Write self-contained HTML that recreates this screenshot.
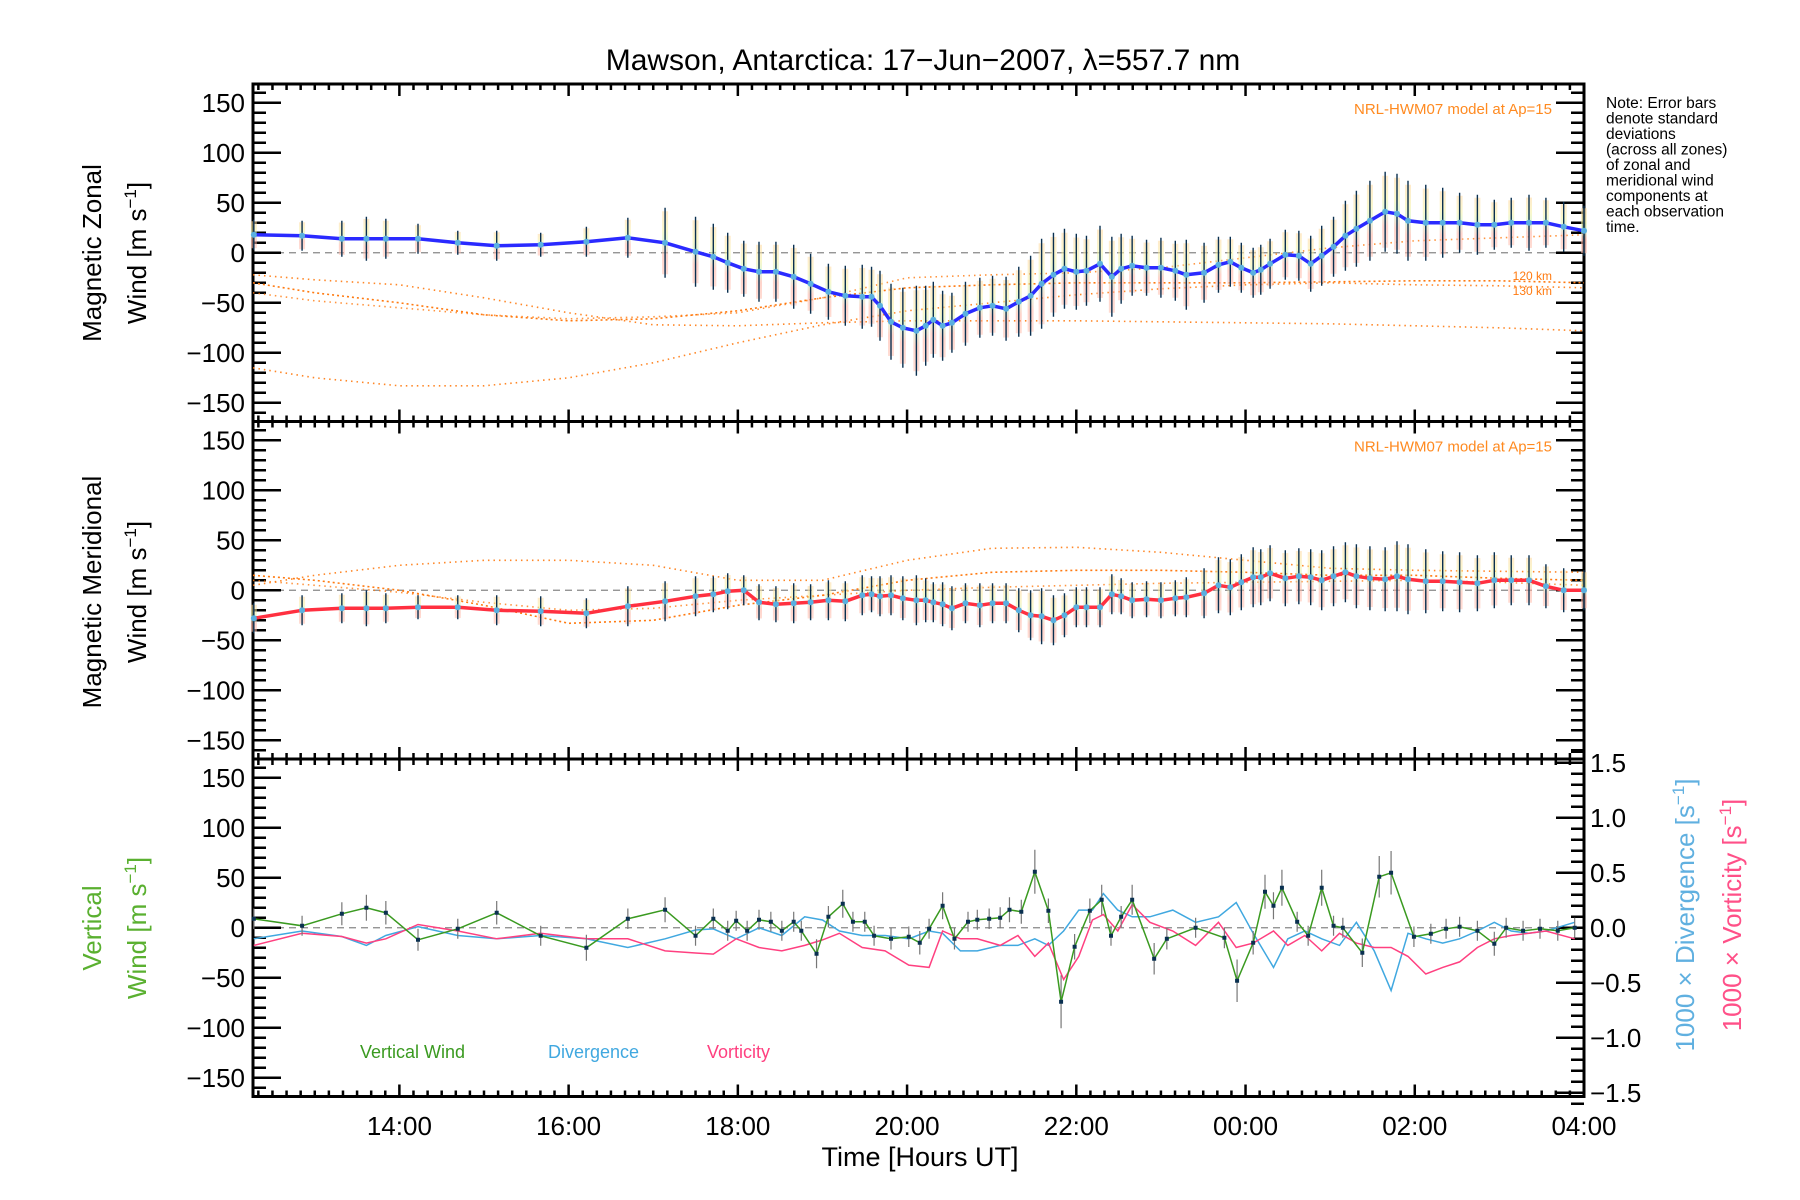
<!DOCTYPE html>
<html><head><meta charset="utf-8"><style>
html,body{margin:0;padding:0;background:#fff;}
svg{display:block;font-family:"Liberation Sans","DejaVu Sans",sans-serif;}
</style></head><body>
<svg id="chart" width="1800" height="1200" viewBox="0 0 1800 1200" xmlns="http://www.w3.org/2000/svg">
<defs>
<linearGradient id="pastel" x1="0" y1="0" x2="0" y2="1">
<stop offset="0" stop-color="#ffd9a0"/><stop offset="0.3" stop-color="#f5f0a0"/><stop offset="0.5" stop-color="#c8f0c0"/><stop offset="0.7" stop-color="#ffb0a0"/><stop offset="1" stop-color="#ffc0b0"/>
</linearGradient>
</defs>
<text x="923" y="70" text-anchor="middle" font-size="30">Mawson, Antarctica: 17−Jun−2007, λ=557.7 nm</text>
<g id="plots"></g>
<g font-size="15.5" fill="#000">
<text x="1606" y="108">Note: Error bars</text>
<text x="1606" y="123.5">denote standard</text>
<text x="1606" y="139">deviations</text>
<text x="1606" y="154.5">(across all zones)</text>
<text x="1606" y="170">of zonal and</text>
<text x="1606" y="185.5">meridional wind</text>
<text x="1606" y="201">components at</text>
<text x="1606" y="216.5">each observation</text>
<text x="1606" y="232">time.</text>
</g>
</svg>
<script>
// ---- data ----
const times=[12.28,12.85,13.32,13.61,13.84,14.22,14.69,15.15,15.67,16.21,16.70,17.14,17.50,17.71,17.88,18.07,18.25,18.45,18.66,18.86,19.07,19.27,19.47,19.58,19.68,19.81,19.95,20.11,20.22,20.31,20.42,20.53,20.69,20.86,21.01,21.17,21.32,21.46,21.59,21.73,21.86,22.00,22.12,22.28,22.42,22.53,22.66,22.83,23.00,23.17,23.30,23.51,23.68,23.82,23.95,24.09,24.18,24.29,24.47,24.63,24.77,24.90,25.04,25.18,25.31,25.47,25.65,25.79,25.92,26.13,26.33,26.53,26.74,26.94,27.14,27.35,27.55,27.76,28.0];
const zonal=[18,17,14,14,14,14,10,7,8,11,15,10,1,-4,-10,-16,-19,-19,-24,-31,-39,-43,-44,-44,-53,-69,-75,-78,-73,-67,-73,-70,-61,-55,-53,-56,-49,-43,-31,-22,-16,-19,-18,-11,-24,-16,-13,-15,-15,-18,-22,-20,-12,-9,-15,-20,-17,-11,-2,-3,-11,-3,6,17,24,32,41,39,32,30,30,30,28,28,30,30,30,26,22];
const zonalErr=[15,15,18,22,20,15,12,15,12,15,20,35,35,33,30,28,30,30,32,30,28,30,32,30,35,38,40,45,40,38,35,30,32,30,30,32,35,40,45,42,40,38,35,38,40,35,30,28,30,30,35,30,28,25,25,25,25,25,25,25,28,30,30,35,38,40,40,40,40,38,35,30,30,25,25,28,25,25,25];
const merid=[-28,-20,-18,-18,-18,-17,-17,-20,-21,-23,-16,-11,-6,-4,-1,0,-12,-14,-13,-12,-10,-11,-5,-4,-6,-5,-8,-10,-10,-12,-14,-18,-13,-15,-13,-13,-20,-25,-26,-30,-25,-17,-17,-17,-4,-6,-10,-9,-10,-8,-7,-3,5,3,8,13,13,17,12,14,13,10,14,18,14,12,11,14,11,9,9,8,7,10,10,10,4,0,0];
const meridErr=[15,15,15,18,15,12,12,15,15,15,20,20,20,18,18,15,18,18,20,18,20,20,20,18,20,20,22,25,22,20,22,22,20,22,20,20,22,25,28,25,22,20,20,20,20,18,18,18,18,18,20,25,28,28,28,30,28,28,28,28,28,30,30,30,32,32,32,35,35,32,30,30,28,28,25,25,22,22,20];
const modelHours=[12.27,13,14,15,16,17,18,19,20,21,22,23,24,25,26,27,28];
const zModel1=[-22,-27,-32,-45,-60,-72,-73,-70,-68,-68,-68,-69,-70,-71,-73,-75,-78];
const zModel2=[-30,-40,-50,-62,-68,-66,-58,-45,-35,-32,-30,-30,-30,-29,-28,-28,-30];
const zModel3=[-115,-125,-133,-133,-125,-110,-90,-72,-58,-50,-42,-36,-32,-30,-32,-33,-35];
const zModel4=[-40,-48,-55,-62,-66,-64,-60,-45,-25,-22,-20,-15,-5,5,12,15,18];
const mModel1=[5,15,25,30,30,25,10,10,30,42,43,38,30,22,20,19,18];
const mModel2=[15,10,0,-15,-33,-30,-15,-5,10,18,20,20,18,15,15,12,10];
const mModel3=[10,5,-2,-12,-20,-18,-10,-5,0,3,5,7,8,9,10,8,5];
const vTimes=[12.28,12.85,13.32,13.61,13.84,14.22,14.69,15.15,15.67,16.21,16.70,17.14,17.50,17.71,17.88,17.98,18.11,18.25,18.39,18.52,18.66,18.75,18.93,19.07,19.24,19.36,19.50,19.61,19.81,20.02,20.15,20.26,20.42,20.56,20.72,20.83,20.97,21.10,21.21,21.35,21.51,21.67,21.82,21.98,22.16,22.30,22.41,22.53,22.66,22.92,23.07,23.41,23.75,23.90,24.09,24.23,24.33,24.43,24.61,24.74,24.90,25.04,25.15,25.38,25.58,25.72,25.99,26.19,26.37,26.53,26.74,26.94,27.08,27.28,27.48,27.69,27.89];
const vertical=[9,2,14,20,15,-12,-1,15,-8,-20,9,18,-8,9,-3,7,-3,8,6,-3,6,-3,-26,11,24,6,6,-8,-11,-9,-15,-1,22,-11,6,8,9,10,18,16,56,17,-74,-19,17,28,-8,11,28,-31,-11,0,-10,-53,-15,36,22,40,6,-8,40,2,0,-25,51,55,-9,-6,-1,1,-3,-16,0,-3,-1,-3,0];
const dTimes=[12.28,12.85,13.32,13.61,13.84,14.22,14.69,15.15,15.67,16.21,16.70,17.14,17.50,17.71,17.98,18.25,18.52,18.79,19.00,19.20,19.47,19.74,20.02,20.26,20.42,20.63,20.83,21.10,21.31,21.51,21.67,21.85,22.03,22.19,22.32,22.49,22.66,22.87,23.14,23.41,23.68,23.89,24.09,24.33,24.50,24.70,24.90,25.11,25.31,25.52,25.72,25.92,26.13,26.33,26.53,26.74,26.94,27.14,27.35,27.55,27.89];
const divergence=[-0.10,-0.03,-0.08,-0.16,-0.07,0.01,-0.07,-0.10,-0.07,-0.10,-0.18,-0.10,-0.02,-0.01,-0.10,0,-0.07,0.10,0.07,-0.03,-0.07,-0.07,-0.10,-0.03,-0.05,-0.21,-0.21,-0.16,-0.16,-0.10,-0.16,-0.03,0.16,0.16,0.31,0.16,0.10,0.10,0.16,0.05,0.10,0.23,-0.05,-0.36,-0.10,-0.03,-0.10,-0.16,0.05,-0.21,-0.57,-0.05,-0.10,-0.14,-0.10,-0.03,0.05,-0.03,-0.05,-0.03,0.05];
const vorticity=[-0.16,-0.05,-0.08,-0.14,-0.10,0.03,-0.03,-0.10,-0.05,-0.10,-0.10,-0.21,-0.23,-0.24,-0.10,-0.18,-0.21,-0.16,-0.11,-0.05,-0.18,-0.21,-0.34,-0.36,-0.03,-0.10,-0.10,-0.16,-0.07,-0.26,-0.14,-0.47,-0.26,0.07,0.12,-0.03,0.21,0.05,-0.03,-0.16,0.05,-0.18,-0.14,-0.03,-0.16,-0.07,-0.21,-0.05,-0.14,-0.18,-0.18,-0.26,-0.42,-0.36,-0.31,-0.18,-0.10,-0.07,-0.05,-0.03,-0.10];
const xTickHours=[14,16,18,20,22,24,26,28];
const xTickLabels=["14:00","16:00","18:00","20:00","22:00","00:00","02:00","04:00"];
const yTickVals=[150,100,50,0,-50,-100,-150];
const yTickLabels=["150","100","50","0","−50","−100","−150"];
const rTickVals=[1.5,1.0,0.5,0.0,-0.5,-1.0,-1.5];
const rTickLabels=["1.5","1.0","0.5","0.0","−0.5","−1.0","−1.5"];

// ---- layout ----
const NS="http://www.w3.org/2000/svg";
const L=253,R=1584,H0=12.27,H1=28.0;
const tops=[84,421.5,759],PH=337.5,YR=168.75;
const X=h=>L+(h-H0)/(H1-H0)*(R-L);
const Y=(v,p)=>tops[p]+PH/2-v*(PH/(2*YR));
const YRt=(d,p)=>Y(d*110,p);
const root=document.getElementById('plots');
function mk(tag,attrs,parent){const e=document.createElementNS(NS,tag);for(const k in attrs)e.setAttribute(k,attrs[k]);(parent||root).appendChild(e);return e;}
function txt(x,y,s,attrs,parent){const e=mk('text',Object.assign({x:x,y:y},attrs),parent);e.textContent=s;return e;}
function pathFrom(xs,ys,p,fy){let d='';for(let i=0;i<xs.length;i++){d+=(i?'L':'M')+X(xs[i]).toFixed(1)+' '+fy(ys[i],p).toFixed(1);}return d;}

for(let p=0;p<3;p++){
  const g=mk('g',{});
  
  
  const z=mk('line',{x1:L,x2:R,y1:Y(0,p),y2:Y(0,p),stroke:'#888','stroke-width':1.2,'stroke-dasharray':'7 5'},g);
  
  
  for(let v=-160;v<=160;v+=10){
    const major=v%50===0;const y=Y(v,p);
    mk('line',{x1:L,x2:L+(major?28:13),y1:y,y2:y,stroke:'#000','stroke-width':2.5},g);
    if(p<2) mk('line',{x1:R,x2:R-(major?28:13),y1:y,y2:y,stroke:'#000','stroke-width':2.5},g);
  }
  yTickVals.forEach((v,i)=>{const t=txt(L-8,Y(v,p)+9,yTickLabels[i],{'text-anchor':'end','font-size':26},g);
    
    });
  for(let m=Math.ceil(H0*6);m<=H1*6+0.01;m++){
    const h=m/6,x=X(h),major=(m%12===0);
    mk('line',{x1:x,x2:x,y1:tops[p],y2:tops[p]+(major?12:6),stroke:'#000','stroke-width':2.5},g);
    mk('line',{x1:x,x2:x,y1:tops[p]+PH,y2:tops[p]+PH-(major?12:6),stroke:'#000','stroke-width':2.5},g);
  }
  const fr=mk('rect',{x:L,y:tops[p],width:R-L,height:PH,fill:'none',stroke:'#000','stroke-width':3},g);
  
  
}
for(let k=-16;k<=16;k++){const d=k/10,y=YRt(d,2),major=(k%5===0);
  mk('line',{x1:R,x2:R-(major?28:13),y1:y,y2:y,stroke:'#000','stroke-width':2.5});}
rTickVals.forEach((v,i)=>{const t=txt(R+6,YRt(v,2)+9,rTickLabels[i],{'font-size':26});
  
  });
xTickHours.forEach((h,i)=>{const t=txt(X(h),1135,xTickLabels[i],{'text-anchor':'middle','font-size':26});
  
  });
const xt=txt(920,1166,'Time [Hours UT]',{'text-anchor':'middle','font-size':27});



function model(arr,p,dash,op){const e=mk('path',{d:pathFrom(modelHours,arr,p,Y),fill:'none',stroke:'#ff7a10','stroke-width':1.6,'stroke-dasharray':dash,opacity:op});
  
  }
model(zModel1,0,'1.5 4',0.9);model(zModel2,0,'2 3',1);model(zModel3,0,'1.5 4',0.9);model(zModel4,0,'1.5 4',0.8);
model(mModel1,1,'1.5 4',0.9);model(mModel2,1,'2 3',1);model(mModel3,1,'1.5 4',0.8);
[0,1].forEach(p=>{const t=txt(1552,tops[p]+30,'NRL-HWM07 model at Ap=15',{'text-anchor':'end','font-size':15,fill:'#ff8a20'});
  
  });
const k1=txt(1552,280,'120 km',{'text-anchor':'end','font-size':12,fill:'#ff7a10'});


const k2=txt(1552,295,'130 km',{'text-anchor':'end','font-size':12,fill:'#ff7a10'});



function windPanel(vals,errs,p,color,name){
  times.forEach((h,i)=>{const x=X(h);
    const bg=mk('rect',{x:x-3,y:Y(vals[i]+errs[i]*0.9,p),width:6,height:Y(vals[i]-errs[i]*0.9,p)-Y(vals[i]+errs[i]*0.9,p),fill:'url(#pastel)',opacity:0.55});
    
    
    const eb=mk('line',{x1:x,x2:x,y1:Y(vals[i]+errs[i],p),y2:Y(vals[i]-errs[i],p),stroke:'#0a3050','stroke-width':1.4});
    
    
  });
  const ln=mk('path',{d:pathFrom(times,vals,p,Y),fill:'none',stroke:color,'stroke-width':3.5,'stroke-linejoin':'round'});
  
  
  times.forEach((h,i)=>{const c=mk('circle',{cx:X(h),cy:Y(vals[i],p),r:3,fill:'#5ab0e0'});
    
    });
}
windPanel(zonal,zonalErr,0,'#2a2aff','zonal-wind-line');
windPanel(merid,meridErr,1,'#ff3040','meridional-wind-line');

const dv=mk('path',{d:pathFrom(dTimes,divergence,2,YRt),fill:'none',stroke:'#40a8e0','stroke-width':1.5});


const vo=mk('path',{d:pathFrom(dTimes,vorticity,2,YRt),fill:'none',stroke:'#ff4080','stroke-width':1.5});


vTimes.forEach((h,i)=>{const x=X(h);const e=Math.max(10,Math.abs(vertical[i])*0.25+8);
  const eb=mk('line',{x1:x,x2:x,y1:Y(vertical[i]+e,2),y2:Y(vertical[i]-e,2),stroke:'#777','stroke-width':1.2});
  
  });
const vw=mk('path',{d:pathFrom(vTimes,vertical,2,Y),fill:'none',stroke:'#3a9a20','stroke-width':1.5});


vTimes.forEach((h,i)=>{const c=mk('rect',{x:X(h)-2,y:Y(vertical[i],2)-2,width:4,height:4,fill:'#0a3050'});
  
  });
const lg1=txt(360,1058,'Vertical Wind',{'font-size':18,fill:'#3a9a20'});


const lg2=txt(548,1058,'Divergence',{'font-size':18,fill:'#40a8e0'});


const lg3=txt(707,1058,'Vorticity',{'font-size':18,fill:'#ff4080'});



function vt(x,y,s,fill,name,size){const t=txt(0,0,'',{'text-anchor':'middle','font-size':size||26,fill:fill,transform:'translate('+x+','+y+') rotate(-90)'});
  t.innerHTML=s;
  
  }
vt(101,253,'Magnetic  Zonal','#000','zonal-title-1');
vt(146,253,'Wind [m s<tspan dy="-10" font-size="17">−1</tspan><tspan dy="10">]</tspan>','#000','zonal-title-2');
vt(101,592,'Magnetic  Meridional','#000','meridional-title-1');
vt(146,592,'Wind [m s<tspan dy="-10" font-size="17">−1</tspan><tspan dy="10">]</tspan>','#000','meridional-title-2');
vt(101,928,'Vertical','#5ab030','vertical-title-1');
vt(146,928,'Wind [m s<tspan dy="-10" font-size="17">−1</tspan><tspan dy="10">]</tspan>','#5ab030','vertical-title-2');
vt(1694,915,'1000 × Divergence [s<tspan dy="-10" font-size="17">−1</tspan><tspan dy="10">]</tspan>','#60b0e0','divergence-axis-title');
vt(1741,915,'1000 × Vorticity [s<tspan dy="-10" font-size="17">−1</tspan><tspan dy="10">]</tspan>','#ff5088','vorticity-axis-title');
</script>
</body></html>
